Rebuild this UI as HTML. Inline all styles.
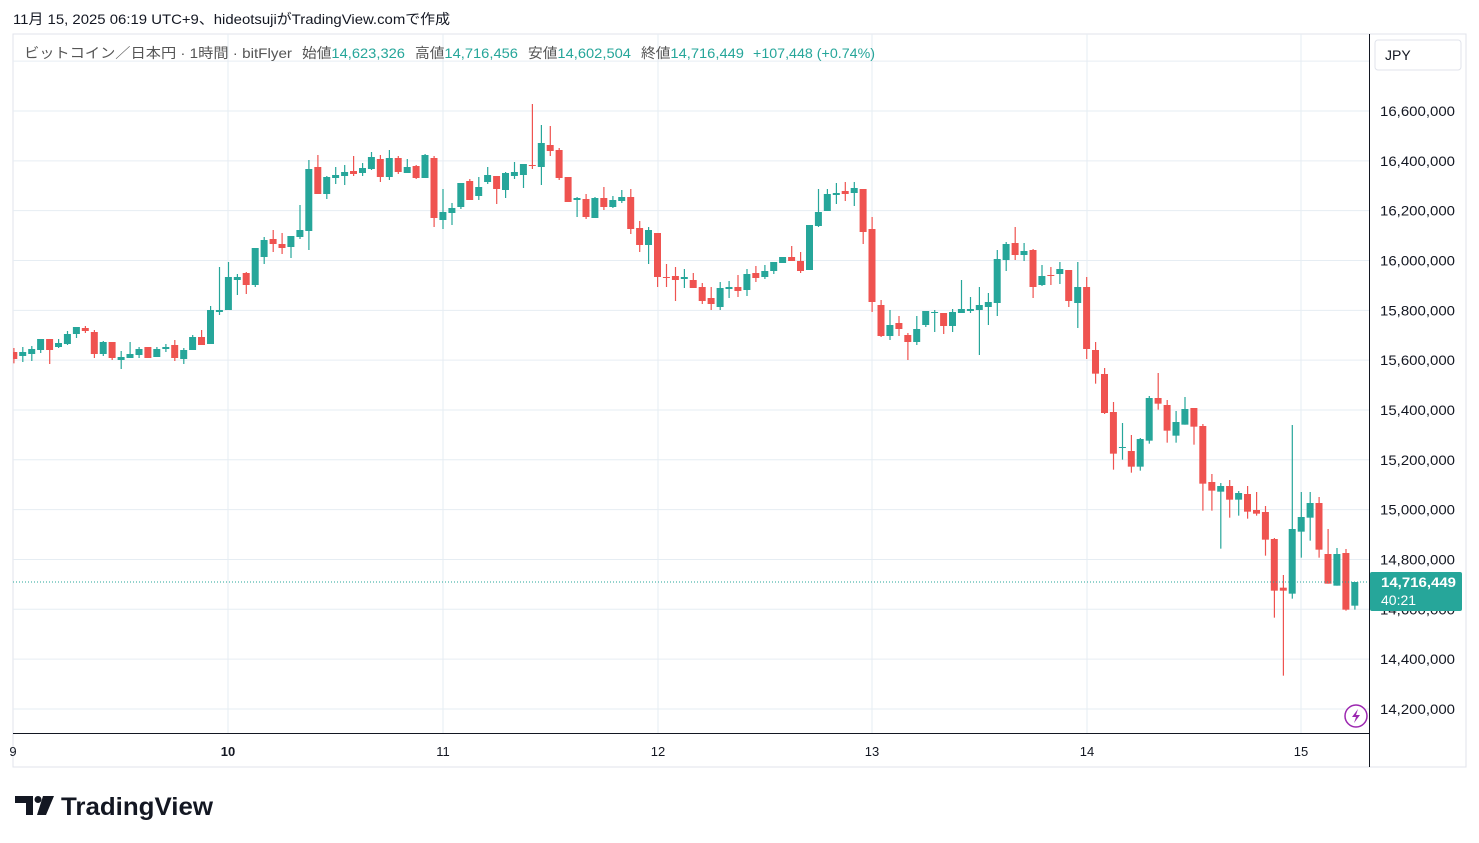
<!DOCTYPE html>
<html><head><meta charset="utf-8"><style>
body{margin:0;background:#fff;width:1479px;height:843px;overflow:hidden;font-family:"Liberation Sans","Noto Sans CJK JP",sans-serif;}
svg{position:absolute;left:0;top:0}
</style></head><body>
<svg id="s" width="1479" height="843" xmlns="http://www.w3.org/2000/svg" font-family="Liberation Sans, Noto Sans CJK JP, sans-serif"></svg>
<script>
const S=document.getElementById('s');let h='';
h+='<rect x="13" y="34" width="1453" height="733" fill="#fff" stroke="#e0e3eb"/>';
for(let k=-1;k<=12;k++){const y=111+49.83*k;if(y>36&&y<730)h+=`<line x1="13" x2="1369" y1="${y}" y2="${y}" stroke="#e6edf3"/>`;}
[228,443,658,872,1087,1301].forEach(x=>h+=`<line x1="${x}" x2="${x}" y1="34" y2="733" stroke="#e6edf3"/>`);
const Z=[
[140,0,[['r',636,657,624,670],['g',636,648,621,666],['g',627,642,618,663],['g',597,630,597,639],['r',597,630,597,672],['g',609,621,597,624],['g',582,612,573,615],['g',561,582,561,594],['r',564,573,558,579],['r',576,642,570,654],['g',606,642,603,648],['r',606,654,606,660],['g',651,660,633,687],['g',642,654,606,654],['g',627,645,621,654],['r',621,654,621,654],['g',627,651,621,651],['g',621,627,612,636],['r',615,654,600,663],['g',630,657,624,672],['g',591,630,585,630],['r',591,615,570,615],['g',510,612,498,612],['g',510,516,381,525],['g',411,510,366,510],['g',411,420,402,465],['r',399,435,396,462],['g',324,435,324,441],['g',300,351,291,372],['r',297,312,270,336],['r',312,324,279,342],['g',288,321,288,354],['g',270,291,195,297],['g',87,273,60,330],['r',81,162,45,162],['g',111,162,108,177],['g',105,114,81,132],['g',96,108,75,135],['r',93,102,48,108],['g',84,99,69,108],['g',51,87,36,90],['r',57,111,45,126],['g',54,111,30,120],['r',54,96,48,102],['g',81,99,57,99],['r',78,114,75,117],['g',45,114,42,114],['r',54,234,48,261],['g',216,240,147,267]]],
[95,49,[['g',339,354,324,390],['g',264,336,264,342],['r',258,315,252,315],['g',276,303,246,315],['g',240,261,216,267],['r',243,282,243,327],['g',234,285,231,309],['g',231,243,201,252],['g',207,240,207,279],['r',210,213,27,222],['g',144,216,90,270],['r',150,168,93,183],['r',165,249,159,255],['r',246,321,246,321],['g',309,315,306,366],['r',312,366,297,372],['g',309,369,306,369],['r',309,336,276,345],['g',315,336,303,339],['g',306,318,285,324],['r',306,402,282,417],['r',399,450,378,471],['g',405,450,396,507],['r',414,546,414,576],['r',546,549,507,576],['r',543,555,516,618],['g',546,552,522,579],['r',555,579,534,579],['r',576,618,564,627],['r',609,627,576,645],['g',579,636,561,645],['g',576,582,558,609],['r',576,588,540,606],['g',537,585,522,603],['r',534,549,513,561],['g',528,546,510,552],['g',501,528,501,537],['g',486,504,486,504],['r',486,498,453,498],['r',498,528,471,534],['g',390,525,390,525],['g',351,393,282,396],['g',297,348,282,348],['g',294,300,264,327],['r',288,297,261,318],['g',279,294,261,333],['r',282,411,282,447],['r',402,621,366,651]]],
[170,97,[['r',405,498,390,501],['g',465,498,420,510],['r',459,477,438,498],['r',495,516,489,570],['g',477,516,438,525],['g',423,465,423,471],['g',426,429,420,486],['r',429,468,429,492],['g',426,468,417,486],['g',417,429,330,429],['g',417,423,381,429],['g',405,420,351,555],['g',396,411,369,465],['g',267,399,240,438],['g',222,270,216,303],['r',219,255,171,270],['g',243,255,219,273],['r',240,351,237,384],['g',318,345,285,348],['r',315,318,291,345],['g',297,312,276,342],['r',300,393,300,411],['g',351,399,276,474],['r',351,537,321,567]]],
[330,121,[['r',60,131,36,161],['r',132,249,114,252],['r',246,371,216,419],['g',351,354,279,389],['r',363,410,315,428],['g',327,410,324,422],['g',204,332,198,341],['r',204,221,129,239],['r',225,302,210,338],['g',276,317,243,338],['g',237,284,201,284],['r',234,290,234,344],['r',288,461,282,542],['r',456,482,432,542],['g',468,485,459,656],['r',468,509,450,563],['g',489,509,483,557],['r',492,545,468,566],['r',540,551,486,557],['r',546,629,528,677],['r',627,782,624,863],['r',773,782,735,1037],['g',597,791,285,806],['g',561,605,486,683],['g',519,563,486,632],['r',519,659,501,683],['r',672,761,597,761],['g',672,767,654,767],['r',669,839,657,842],['g',756,827,756,839]]]];
h+='<svg x="13" y="34" width="1356" height="699" overflow="hidden"><g transform="translate(-13,-34)">';
Z.forEach(([off,st,arr])=>arr.forEach((c,j)=>{const i=st+j,x=13.8+8.94*i,col=c[0]=='g'?'#26a69a':'#ef5350';
const y=v=>off+v/3;const bt=y(c[1]),bb=Math.max(y(c[2]),bt+1);
h+=`<rect x="${(x-0.5).toFixed(1)}" y="${y(c[3])}" width="1.2" height="${y(c[4])-y(c[3])}" fill="${col}"/>`;
h+=`<rect x="${(x-3.5).toFixed(1)}" y="${bt}" width="7" height="${bb-bt}" fill="${col}"/>`;}));
h+='</g></svg>';
h+='<line x1="13" x2="1369" y1="582" y2="582" stroke="#26a69a" stroke-dasharray="1,2"/>';
h+='<line x1="1369.5" x2="1369.5" y1="34" y2="767" stroke="#131722"/><line x1="13" x2="1369" y1="733.5" y2="733.5" stroke="#131722"/>';
const P=['16,600,000','16,400,000','16,200,000','16,000,000','15,800,000','15,600,000','15,400,000','15,200,000','15,000,000','14,800,000','14,600,000','14,400,000','14,200,000'];
P.forEach((t,k)=>h+=`<text x="1380" y="${111+49.83*k+5}" font-size="14" fill="#131722" textLength="75" lengthAdjust="spacingAndGlyphs">${t}</text>`);
h+='<rect x="1370" y="572" width="92" height="39" rx="2" fill="#26a69a"/><text x="1381" y="587" font-size="14" fill="#fff" font-weight="bold" textLength="75" lengthAdjust="spacingAndGlyphs">14,716,449</text><text x="1381" y="605" font-size="14" fill="#fff">40:21</text>';
h+='<rect x="1375" y="40" width="86" height="30" rx="3" fill="#fff" stroke="#e0e3eb"/><text x="1385" y="60" font-size="14" fill="#131722">JPY</text>';
[['9',13],['10',228],['11',443],['12',658],['13',872],['14',1087],['15',1301]].forEach(([t,x])=>h+=`<text x="${x}" y="756" font-size="13" fill="#131722" text-anchor="middle" ${t=='10'?'font-weight="bold"':''}>${t}</text>`);
h+='<circle cx="1356" cy="716" r="11" fill="#fff" stroke="#9c27b0" stroke-width="1.5"/><path d="M1358 709 L1352 717 L1356 717 L1354 723 L1360 715 L1356 715 Z" fill="#9c27b0"/>';
h+='<text x="13" y="24" font-size="14" fill="#131722" textLength="437" lengthAdjust="spacingAndGlyphs">11月 15, 2025 06:19 UTC+9、hideotsujiがTradingView.comで作成</text>';
const L=(x,w,a,b)=>`<text x="${x}" y="58" font-size="14" fill="#555" textLength="${w}" lengthAdjust="spacingAndGlyphs">${a}<tspan fill="#26a69a">${b}</tspan></text>`;
h+=L(24,268,'ビットコイン／日本円 · 1時間 · bitFlyer','');
h+=L(302,103,'始値','14,623,326');h+=L(415,103,'高値','14,716,456');h+=L(528,103,'安値','14,602,504');h+=L(641,103,'終値','14,716,449');
h+=L(753,122,'','+107,448 (+0.74%)');
h+='<path d="M15 796 H33 V815 H26 V803 H15 Z" fill="#131722"/><circle cx="38" cy="799.5" r="3.5" fill="#131722"/><path d="M43 796 H54 L46 815 H37 Z" fill="#131722"/>';
h+='<text x="61" y="815" font-size="25" font-weight="bold" fill="#131722" textLength="152" lengthAdjust="spacingAndGlyphs">TradingView</text>';
S.innerHTML=h;
</script>
</body></html>
